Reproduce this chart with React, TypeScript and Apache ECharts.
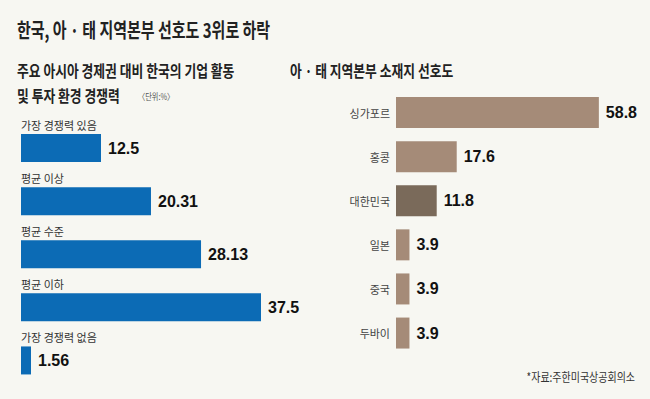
import React, { useEffect, useRef } from "react";
import * as echarts from "echarts";

const titleText = "한국, 아 · 태 지역본부 선호도 3위로 하락";
const leftTitle1 = "주요 아시아 경제권 대비 한국의 기업 활동";
const leftTitle2 = "및 투자 환경 경쟁력";
const unitText = "〈단위:%〉";
const rightTitle = "아 · 태 지역본부 소재지 선호도";
const sourceText = "*자료:주한미국상공회의소";

const leftCategories = ["가장 경쟁력 있음", "평균 이상", "평균 수준", "평균 이하", "가장 경쟁력 없음"];
const leftValues = [12.5, 20.31, 28.13, 37.5, 1.56];

const rightCategories = ["싱가포르", "홍콩", "대한민국", "일본", "중국", "두바이"];
const rightValues = [58.8, 17.6, 11.8, 3.9, 3.9, 3.9];
const highlightCategory = "대한민국";

const KR = '"Noto Sans CJK KR", "Noto Sans", sans-serif';
const NUM = '"Liberation Sans Narrow", "Arial Narrow", "Liberation Sans", sans-serif';
const BLUE = "#0c6bb5";
const BROWN = "#a58b78";
const DARK = "#7a6a5a";
const BG = "#f7f7f2";

export default function App() {
  const ref = useRef<HTMLDivElement>(null);
  useEffect(() => {
    if (!ref.current) return;
    const chart = echarts.init(ref.current, null, { renderer: "svg" });
    const valueLabel = {
      show: true,
      position: "right" as const,
      distance: 7,
      fontFamily: NUM,
      fontSize: 16,
      fontWeight: "bold" as const,
      color: "#111",
      formatter: (p: any) => String(p.value),
    };
    const option: any = {
      animation: false,
      backgroundColor: BG,
      grid: [
        { left: 21, top: 121.5, width: 320, height: 265.5 },
        { left: 396, top: 90.5, width: 207, height: 264.6 },
      ],
      xAxis: [
        { type: "value", gridIndex: 0, min: 0, max: 50, show: false },
        { type: "value", gridIndex: 1, min: 0, max: 60, show: false },
      ],
      yAxis: [
        {
          type: "category",
          gridIndex: 0,
          inverse: true,
          data: leftCategories,
          show: false,
        },
        {
          type: "category",
          gridIndex: 1,
          inverse: true,
          data: rightCategories,
          axisLine: { show: false },
          axisTick: { show: false },
          splitLine: { show: false },
          axisLabel: { margin: 6, fontSize: 11, color: "#444", fontFamily: KR },
        },
      ],
      series: [
        {
          type: "bar",
          xAxisIndex: 0,
          yAxisIndex: 0,
          barWidth: 28,
          data: leftValues,
          itemStyle: { color: BLUE },
          label: valueLabel,
        },
        {
          type: "bar",
          xAxisIndex: 0,
          yAxisIndex: 0,
          barWidth: 28,
          barGap: "-100%",
          silent: true,
          data: leftValues,
          itemStyle: { color: "rgba(0,0,0,0)" },
          label: {
            show: true,
            position: [0, -9],
            align: "left",
            verticalAlign: "middle",
            formatter: "{b}",
            fontFamily: KR,
            fontSize: 11,
            color: "#333",
          },
        },
        {
          type: "bar",
          xAxisIndex: 1,
          yAxisIndex: 1,
          barWidth: 31,
          data: rightValues.map((v, i) => ({
            value: v,
            itemStyle: { color: rightCategories[i] === highlightCategory ? DARK : BROWN },
          })),
          label: valueLabel,
        },
      ],
      graphic: [
        {
          type: "text",
          x: 17,
          y: 30,
          scaleX: 0.75,
          style: { text: titleText, fontFamily: KR, fontSize: 20, fontWeight: "bold", fill: "#222", textAlign: "left", textVerticalAlign: "middle" },
        },
        {
          type: "text",
          x: 17,
          y: 70,
          scaleX: 0.8,
          style: { text: leftTitle1, fontFamily: KR, fontSize: 16, fontWeight: "bold", fill: "#222", textAlign: "left", textVerticalAlign: "middle" },
        },
        {
          type: "text",
          x: 17,
          y: 95,
          scaleX: 0.8,
          style: { text: leftTitle2, fontFamily: KR, fontSize: 16, fontWeight: "bold", fill: "#222", textAlign: "left", textVerticalAlign: "middle" },
        },
        {
          type: "text",
          x: 138,
          y: 96,
          scaleX: 0.8,
          style: { text: unitText, fontFamily: KR, fontSize: 9, fill: "#555", textAlign: "left", textVerticalAlign: "middle" },
        },
        {
          type: "text",
          x: 290,
          y: 70,
          scaleX: 0.8,
          style: { text: rightTitle, fontFamily: KR, fontSize: 16, fontWeight: "bold", fill: "#222", textAlign: "left", textVerticalAlign: "middle" },
        },
        {
          type: "text",
          x: 635,
          y: 376,
          scaleX: 0.8,
          style: { text: sourceText, fontFamily: KR, fontSize: 12.5, fill: "#333", textAlign: "right", textVerticalAlign: "middle" },
        },
      ],
    };
    chart.setOption(option);
    return () => chart.dispose();
  }, []);
  return (
    <div
      ref={ref}
      style={{ position: "fixed", left: 0, top: 0, width: 650, height: 399, background: BG }}
    />
  );
}
